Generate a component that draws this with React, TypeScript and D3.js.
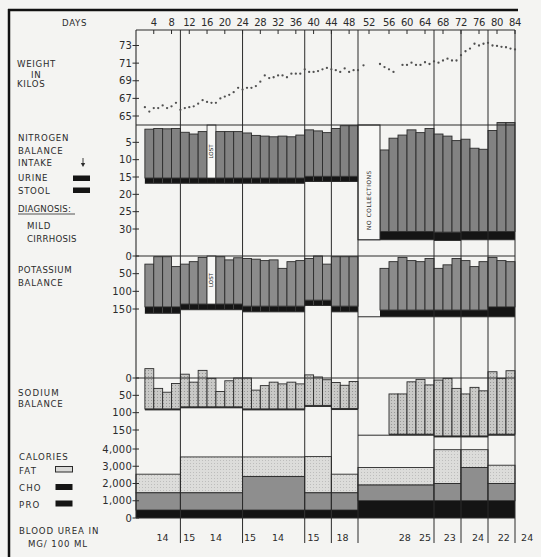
import React from 'react';
import * as d3 from 'd3';

// ---------- DATA ----------
const dayTicks = [4, 8, 12, 16, 20, 24, 28, 32, 36, 40, 44, 48, 52, 56, 60, 64, 68, 72, 76, 80, 84];
const weightTicks = [65, 67, 69, 71, 73];
const nitrogenTicks = [5, 10, 15, 20, 25, 30];
const potassiumTicks = [0, 50, 100, 150];
const sodiumTicks = [0, 50, 100, 150];
const calorieTicks = [0, 1000, 2000, 3000, 4000];

// daily weight (kg), first value = day 2; null = not recorded
const weightFirstDay = 2;
const weights: (number | null)[] = [
  66.0, 65.5, 65.9, 65.9, 66.2, 65.9, 66.1, 66.5, 65.7, 65.9,
  66.0, 66.1, 66.4, 66.8, 66.6, 66.5, 66.5, 67.0, 67.2, 67.4,
  67.7, 68.2, 68.0, 68.2, 68.2, 68.4, 68.9, 69.6, 69.3, 69.4,
  69.6, 69.6, 69.4, 69.8, 69.8, 69.8, 70.3, 70.0, 70.0, 70.1,
  70.3, 70.45, 70.3, 70.2, 70.0, 70.4, 70.0, 70.2, 70.2, 70.75,
  null, null, 70.9, 70.55, 70.3, 70.0, null, 70.8, 70.8, 71.05,
  70.8, 70.8, 71.1, 70.9, 71.2, 71.05, 71.3, 71.5, 71.3, 71.3,
  71.9, 72.35, 72.65, 73.2, 73.0, 73.2, 73.3, 73.0, 72.95, 72.85,
  72.8, 72.65, 72.55,
];

// balance periods (days)
const periodStart = [2, 10, 24, 38, 44, 54, 66, 72, 78];
const periodEnd = [10, 24, 38, 44, 50, 66, 72, 78, 84];
const intakeLineStart = [2, 10, 24, 38, 44, 50, 66, 72, 78];
const separatorDays = [10, 24, 38, 44, 50, 66, 72, 78, 84];
const noCollectionStart = 50;
const noCollectionEnd = 54;

// two-day collection bars (start day)
const barStart = [
  2, 4, 6, 8,
  10, 12, 14, 16, 18, 20, 22,
  24, 26, 28, 30, 32, 34, 36,
  38, 40, 42,
  44, 46, 48,
  54, 56, 58, 60, 62, 64,
  66, 68, 70,
  72, 74, 76,
  78, 80, 82,
];
const lostDays = [16];

// nitrogen (g/day)
const nIntake = [16.8, 16.8, 16.8, 16.3, 16.3, 33.1, 33.3, 33.1, 33.1];
const nStool = [1.5, 1.5, 1.5, 1.5, 1.5, 2.4, 2.4, 2.4, 2.4];
const nUrine: (number | null)[] = [
  14.1, 14.3, 14.2, 14.3,
  13.2, 12.7, 13.4, null, 13.4, 13.4, 13.4,
  13.0, 12.3, 12.1, 11.9, 12.1, 11.9, 12.4,
  13.4, 13.1, 12.6,
  13.8, 14.6, 14.6,
  23.5, 26.9, 27.8, 29.3, 28.5, 29.7,
  28.3, 27.7, 26.4,
  26.6, 24.0, 23.7,
  29.1, 31.4, 31.4,
];

// potassium (mEq/day)
const kIntake = [162, 152, 158, 140, 158, 172, 172, 172, 172];
const kStool = [18, 16, 16, 15, 16, 19, 19, 19, 28];
const kUrine: (number | null)[] = [
  121, 142, 142, 114,
  113, 120, 132, null, 134, 125, 131,
  135, 133, 129, 131, 107, 126, 129,
  118, 125, 102,
  140, 140, 140,
  118, 137, 149, 140, 137, 146,
  118, 128, 146,
  140, 123, 137,
  140, 131, 128,
];

// sodium (mEq/day)
const naIntake = [92, 86, 92, 82, 91, 165, 170, 170, 165];
const naStool = [3, 3, 3, 3, 3, 3, 3, 3, 3];
const naUrine: (number | null)[] = [
  116, 59, 48, 73,
  94, 71, 105, 82, 44, 75, 83,
  89, 54, 67, 77, 72, 77, 72,
  88, 82, 74,
  75, 67, 78,
  null, 116, 116, 151, 158, 142,
  161, 166, 137,
  121, 140, 130,
  180, 161, 183,
];

// calories per period
const calStart = [0, 10, 24, 38, 44, 50, 66, 72, 78];
const calEnd = [10, 24, 38, 44, 50, 66, 72, 78, 84];
const calPro = [460, 460, 460, 460, 460, 1000, 1000, 1000, 1000];
const calCho = [1000, 1000, 1950, 1000, 1000, 910, 1000, 1930, 1000];
const calFat = [1080, 2080, 1130, 2100, 1080, 1020, 1960, 1030, 1060];

// blood urea (mg/100 ml)
const ureaDays = [6, 12, 18, 25.7, 32, 40, 46.5, 59.5, 64, 69.5, 75.8, 81.5, 86.7];
const ureaValues = [14, 15, 14, 15, 14, 15, 18, 28, 25, 23, 24, 22, 24];

// ---------- STYLE ----------
const INK = '#2b2b2b';
const FONT = '"DejaVu Sans", "Liberation Sans", sans-serif';

export default function App() {
  const W = 541, H = 557;
  const x = d3.scaleLinear().domain([0, 50, 54, 84]).range([136, 358, 380, 515]);
  const yW = d3.scaleLinear().domain([65, 73]).range([116, 45.5]);
  const yN = d3.scaleLinear().domain([0, 30]).range([125, 229]);
  const yK = d3.scaleLinear().domain([0, 150]).range([256, 309]);
  const yNa = d3.scaleLinear().domain([0, 150]).range([378, 430]);
  const yC = d3.scaleLinear().domain([0, 4000]).range([518, 449]);

  const xL = x(0), xR = x(84);
  const topY = 30, bottomY = 543;

  const periodOf = (d: number) => periodStart.findIndex((s, i) => d >= s && d < periodEnd[i]);

  const balance = (
    key: string,
    y: d3.ScaleLinear<number, number>,
    intake: number[],
    stool: number[],
    urine: (number | null)[],
    fill: string,
    lost: number[],
  ) => {
    const els: React.ReactNode[] = [];
    barStart.forEach((d, i) => {
      const p = periodOf(d);
      const u = urine[i];
      const isLost = lost.includes(d);
      if (u == null && !isLost) return;
      const x0 = x(d), x1 = x(d + 2);
      const base = intake[p];
      const sTop = base - stool[p];
      els.push(
        <rect key={`${key}s${i}`} x={x0} y={y(sTop)} width={x1 - x0} height={y(base) - y(sTop)} fill="#151515" />,
      );
      if (isLost) {
        els.push(
          <rect key={`${key}l${i}`} x={x0} y={y(0)} width={x1 - x0} height={y(sTop) - y(0)} fill="#f7f7f5" stroke={INK} strokeWidth={0.8} />,
        );
        const cy = (y(0) + y(sTop)) / 2;
        els.push(
          <text key={`${key}lt${i}`} x={(x0 + x1) / 2} y={cy} fontSize={5.5} fontFamily={FONT} fill={INK}
            textAnchor="middle" dominantBaseline="central" transform={`rotate(-90 ${(x0 + x1) / 2} ${cy})`}>LOST</text>,
        );
      } else if (u != null) {
        const t = sTop - u;
        els.push(
          <rect key={`${key}u${i}`} x={x0} y={y(t)} width={x1 - x0} height={y(sTop) - y(t)} fill={fill} stroke={INK} strokeWidth={0.9} />,
        );
      }
    });
    periodEnd.forEach((e, p) => {
      els.push(
        <line key={`${key}i${p}`} x1={x(intakeLineStart[p])} x2={x(e)} y1={y(intake[p])} y2={y(intake[p])} stroke={INK} strokeWidth={1} />,
      );
    });
    return els;
  };

  const axisTicks = (key: string, y: d3.ScaleLinear<number, number>, ticks: number[], fmt: (v: number) => string) =>
    ticks.map((t) => (
      <g key={`${key}${t}`}>
        <line x1={xL - 3.5} x2={xL + 3} y1={y(t)} y2={y(t)} stroke={INK} strokeWidth={1} />
        <text x={xL - 4} y={y(t) + 3.6} fontSize={10} fontFamily={FONT} fill={INK} textAnchor="end" letterSpacing={0.2}>{fmt(t)}</text>
      </g>
    ));

  const lab = (key: string, tx: number, ty: number, s: string, extra: any = {}) => (
    <text key={key} x={tx} y={ty} fontSize={8.6} fontFamily={FONT} fill={INK} letterSpacing={0.7} {...extra}>{s}</text>
  );

  const cFmt = d3.format(',');

  return (
    <div style={{ position: 'absolute', left: 0, top: 0 }}>
      <svg width={W} height={H} viewBox={`0 0 ${W} ${H}`} style={{ display: 'block' }}>
        <defs>
          <pattern id="naDots" width={3} height={3} patternUnits="userSpaceOnUse">
            <rect width={3} height={3} fill="#c9c9c7" />
            <circle cx={1.5} cy={1.5} r={0.55} fill="#8f8f8f" />
          </pattern>
          <pattern id="fatDots" width={3} height={3} patternUnits="userSpaceOnUse">
            <rect width={3} height={3} fill="#dcdcda" />
            <circle cx={1.5} cy={1.5} r={0.5} fill="#b3b3b3" />
          </pattern>
        </defs>
        <rect x={0} y={0} width={W} height={H} fill="#f4f4f2" />

        {/* outer frame */}
        <line x1={9} x2={9} y1={9} y2={H} stroke="#111" strokeWidth={2.5} />
        <line x1={8} x2={518} y1={10} y2={10} stroke="#111" strokeWidth={2.5} />

        {/* calories */}
        {calStart.map((s, p) => {
          const x0 = x(s), x1 = x(calEnd[p]);
          const a = calPro[p], b = a + calCho[p], c = b + calFat[p];
          return (
            <g key={`cal${p}`}>
              <rect x={x0} y={yC(c)} width={x1 - x0} height={yC(b) - yC(c)} fill="url(#fatDots)" stroke={INK} strokeWidth={0.9} />
              <rect x={x0} y={yC(b)} width={x1 - x0} height={yC(a) - yC(b)} fill="#8e8e8e" stroke={INK} strokeWidth={0.9} />
              <rect x={x0} y={yC(a)} width={x1 - x0} height={yC(0) - yC(a)} fill="#141414" />
            </g>
          );
        })}

        {/* balance panels */}
        {balance('na', yNa, naIntake, naStool, naUrine, 'url(#naDots)', [])}
        {balance('k', yK, kIntake, kStool, kUrine, '#8b8b8b', lostDays)}
        {balance('n', yN, nIntake, nStool, nUrine, '#828282', lostDays)}

        {/* no collections box */}
        <rect x={x(noCollectionStart)} y={yN(0)} width={x(noCollectionEnd) - x(noCollectionStart)} height={yN(nIntake[5]) - yN(0)}
          fill="#f7f7f5" stroke={INK} strokeWidth={1} />
        <text x={(x(noCollectionStart) + x(noCollectionEnd)) / 2} y={200} fontSize={5.8} fontFamily={FONT} fill={INK} letterSpacing={0.6}
          textAnchor="middle" dominantBaseline="central"
          transform={`rotate(-90 ${(x(noCollectionStart) + x(noCollectionEnd)) / 2} 200)`}>NO COLLECTIONS</text>

        {/* zero lines */}
        {[topY, yN(0), yK(0), yNa(0), yC(0)].map((yy, i) => (
          <line key={`z${i}`} x1={xL} x2={xR} y1={yy} y2={yy} stroke={INK} strokeWidth={1} />
        ))}

        {/* period separators & axis */}
        {separatorDays.map((d) => (
          <line key={`sep${d}`} x1={x(d)} x2={x(d)} y1={topY} y2={bottomY} stroke={INK} strokeWidth={1} />
        ))}
        <line x1={xL} x2={xL} y1={topY} y2={yC(0)} stroke={INK} strokeWidth={1.1} />

        {/* top day axis */}
        {dayTicks.map((d) => (
          <g key={`dt${d}`}>
            <line x1={x(d)} x2={x(d)} y1={topY} y2={topY + 4} stroke={INK} strokeWidth={1} />
            <text x={x(d)} y={26} fontSize={10} fontFamily={FONT} fill={INK} textAnchor="middle" letterSpacing={-0.3}>{d}</text>
          </g>
        ))}

        {/* weight */}
        {weights.map((w, i) =>
          w == null ? null : (
            <circle key={`w${i}`} cx={x(weightFirstDay + i)} cy={yW(w)} r={1.15} fill="#505050" />
          ),
        )}

        {/* y-axes */}
        {axisTicks('wt', yW, weightTicks, (v) => String(v))}
        {axisTicks('nt', yN, nitrogenTicks, (v) => String(v))}
        {axisTicks('kt', yK, potassiumTicks, (v) => String(v))}
        {axisTicks('st', yNa, sodiumTicks, (v) => String(v))}
        {axisTicks('ct', yC, calorieTicks, (v) => cFmt(v))}

        {/* blood urea */}
        {ureaDays.map((d, i) => (
          <text key={`u${i}`} x={x(d)} y={541} fontSize={9.5} fontFamily={FONT} fill={INK} textAnchor="middle">{ureaValues[i]}</text>
        ))}

        {/* left labels */}
        {lab('days', 62, 26, 'DAYS')}
        {lab('w1', 17, 66.5, 'WEIGHT')}
        {lab('w2', 31, 77.5, 'IN')}
        {lab('w3', 17, 87, 'KILOS')}
        {lab('n1', 18, 140.5, 'NITROGEN')}
        {lab('n2', 18, 154, 'BALANCE')}
        {lab('n3', 18, 166, 'INTAKE')}
        <line x1={83} x2={83} y1={158} y2={164.5} stroke={INK} strokeWidth={0.9} />
        <path d="M80.8,163 L83,167 L85.2,163 Z" fill={INK} />
        {lab('n4', 18, 181, 'URINE')}
        <rect x={73} y={175.5} width={17} height={5.5} fill="#151515" />
        {lab('n5', 18, 194, 'STOOL')}
        <rect x={73} y={187.5} width={17} height={5.5} fill="#151515" />
        {lab('n6', 18, 211.5, 'DIAGNOSIS:', { letterSpacing: 0.2 })}
        <line x1={18} x2={75} y1={214} y2={214} stroke={INK} strokeWidth={0.8} />
        {lab('n7', 27, 229, 'MILD')}
        {lab('n8', 27, 242, 'CIRRHOSIS', { letterSpacing: 0.3 })}
        {lab('k1', 18, 272.5, 'POTASSIUM', { letterSpacing: 0.5 })}
        {lab('k2', 18, 285.5, 'BALANCE')}
        {lab('s1', 18, 395.5, 'SODIUM', { letterSpacing: 1.1 })}
        {lab('s2', 18, 406.5, 'BALANCE')}
        {lab('c1', 19, 459.5, 'CALORIES', { letterSpacing: 0.9 })}
        {lab('c2', 19, 474, 'FAT', { letterSpacing: 1.2 })}
        <rect x={55.5} y={466.5} width={17} height={5.5} fill="#d9d9d7" stroke={INK} strokeWidth={1} />
        {lab('c3', 19, 491, 'CHO', { letterSpacing: 1.2 })}
        <rect x={55.5} y={484} width={17} height={6} fill="#151515" />
        {lab('c4', 19, 508, 'PRO', { letterSpacing: 1.2 })}
        <rect x={55.5} y={500.5} width={17} height={6} fill="#151515" />
        {lab('b1', 19, 533.5, 'BLOOD UREA IN', { letterSpacing: 0.9 })}
        {lab('b2', 28, 546.5, 'MG/ 100 ML', { letterSpacing: 0.9 })}
      </svg>
    </div>
  );
}
